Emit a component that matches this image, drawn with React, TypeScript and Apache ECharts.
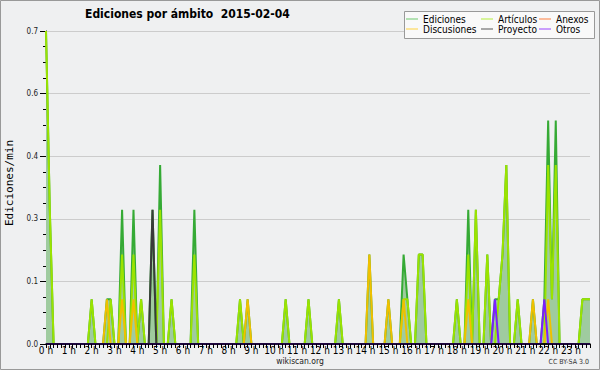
import { useEffect, useRef } from 'react';
import * as echarts from 'echarts';

// Hour tick labels (each hour is split in six 10-minute slots)
const HOUR_LABELS = [
  '0 h', '1 h', '2 h', '3 h', '4 h', '5 h', '6 h', '7 h', '8 h', '9 h', '10 h', '11 h',
  '12 h', '13 h', '14 h', '15 h', '16 h', '17 h', '18 h', '19 h', '20 h', '21 h', '22 h', '23 h',
];
const MINUTES = ['00', '10', '20', '30', '40', '50'];

// Edits per minute for each 10-minute slot (rows = 2 hours)
const EDICIONES = [
  0.7, 0.3, 0, 0, 0, 0, 0, 0, 0, 0, 0, 0,
  0.1, 0, 0, 0, 0.1, 0.1, 0, 0, 0.3, 0, 0, 0.3,
  0, 0.1, 0, 0, 0.3, 0, 0.4, 0, 0, 0.1, 0, 0,
  0, 0, 0, 0.3, 0, 0, 0, 0, 0, 0, 0, 0,
  0, 0, 0, 0.1, 0, 0.1, 0, 0, 0, 0, 0, 0,
  0, 0, 0, 0.1, 0, 0, 0, 0, 0, 0.1, 0, 0,
  0, 0, 0, 0, 0, 0.1, 0, 0, 0, 0, 0, 0,
  0, 0.2, 0, 0, 0, 0, 0.1, 0, 0, 0, 0.2, 0.1,
  0, 0, 0.2, 0.2, 0, 0, 0, 0, 0, 0, 0, 0,
  0.1, 0, 0, 0.3, 0, 0.3, 0, 0, 0.2, 0, 0.1, 0.1,
  0.2, 0.4, 0, 0, 0.1, 0, 0, 0, 0.1, 0, 0, 0.1,
  0.5, 0.1, 0.5, 0, 0, 0, 0, 0, 0, 0.1, 0.1, 0.1,
];
const ARTICULOS = [
  0.7, 0.3, 0, 0, 0, 0, 0, 0, 0, 0, 0, 0,
  0.1, 0, 0, 0, 0, 0.1, 0, 0, 0.2, 0, 0, 0.2,
  0, 0.1, 0, 0, 0, 0, 0.3, 0, 0, 0.1, 0, 0,
  0, 0, 0, 0.2, 0, 0, 0, 0, 0, 0, 0, 0,
  0, 0, 0, 0.1, 0, 0, 0, 0, 0, 0, 0, 0,
  0, 0, 0, 0.1, 0, 0, 0, 0, 0, 0.1, 0, 0,
  0, 0, 0, 0, 0, 0.1, 0, 0, 0, 0, 0, 0,
  0, 0, 0, 0, 0, 0, 0, 0, 0, 0, 0.1, 0.1,
  0, 0, 0.2, 0.2, 0, 0, 0, 0, 0, 0, 0, 0,
  0.1, 0, 0, 0.2, 0, 0.3, 0, 0, 0.2, 0, 0, 0.1,
  0.2, 0.4, 0, 0, 0.1, 0, 0, 0, 0, 0, 0, 0,
  0.4, 0.1, 0.4, 0, 0, 0, 0, 0, 0, 0.1, 0.1, 0.1,
];
const ANEXOS = [
  0, 0, 0, 0, 0, 0, 0, 0, 0, 0, 0, 0,
  0, 0, 0, 0, 0, 0, 0, 0, 0, 0, 0, 0,
  0, 0, 0, 0, 0, 0, 0, 0, 0, 0, 0, 0,
  0, 0, 0, 0, 0, 0, 0, 0, 0, 0, 0, 0,
  0, 0, 0, 0, 0, 0, 0, 0, 0, 0, 0, 0,
  0, 0, 0, 0, 0, 0, 0, 0, 0, 0, 0, 0,
  0, 0, 0, 0, 0, 0, 0, 0, 0, 0, 0, 0,
  0, 0, 0, 0, 0, 0, 0, 0, 0, 0, 0, 0,
  0, 0, 0, 0, 0, 0, 0, 0, 0, 0, 0, 0,
  0, 0, 0, 0, 0, 0, 0, 0, 0, 0, 0, 0,
  0, 0, 0, 0, 0, 0, 0, 0, 0, 0, 0, 0,
  0, 0, 0, 0, 0, 0, 0, 0, 0, 0, 0, 0,
];
const DISCUSIONES = [
  0, 0, 0, 0, 0, 0, 0, 0, 0, 0, 0, 0,
  0, 0, 0, 0, 0.1, 0, 0, 0, 0.1, 0, 0, 0.1,
  0, 0, 0, 0, 0, 0, 0, 0, 0, 0, 0, 0,
  0, 0, 0, 0, 0, 0, 0, 0, 0, 0, 0, 0,
  0, 0, 0, 0, 0, 0.1, 0, 0, 0, 0, 0, 0,
  0, 0, 0, 0, 0, 0, 0, 0, 0, 0, 0, 0,
  0, 0, 0, 0, 0, 0, 0, 0, 0, 0, 0, 0,
  0, 0.2, 0, 0, 0, 0, 0.1, 0, 0, 0, 0.1, 0,
  0, 0, 0, 0, 0, 0, 0, 0, 0, 0, 0, 0,
  0, 0, 0, 0.1, 0, 0, 0, 0, 0, 0, 0, 0,
  0, 0, 0, 0, 0, 0, 0, 0, 0.1, 0, 0, 0,
  0.1, 0, 0, 0, 0, 0, 0, 0, 0, 0, 0, 0,
];
const PROYECTO = [
  0, 0, 0, 0, 0, 0, 0, 0, 0, 0, 0, 0,
  0, 0, 0, 0, 0, 0, 0, 0, 0, 0, 0, 0,
  0, 0, 0, 0, 0.3, 0, 0, 0, 0, 0, 0, 0,
  0, 0, 0, 0, 0, 0, 0, 0, 0, 0, 0, 0,
  0, 0, 0, 0, 0, 0, 0, 0, 0, 0, 0, 0,
  0, 0, 0, 0, 0, 0, 0, 0, 0, 0, 0, 0,
  0, 0, 0, 0, 0, 0, 0, 0, 0, 0, 0, 0,
  0, 0, 0, 0, 0, 0, 0, 0, 0, 0, 0, 0,
  0, 0, 0, 0, 0, 0, 0, 0, 0, 0, 0, 0,
  0, 0, 0, 0, 0, 0, 0, 0, 0, 0, 0, 0,
  0, 0, 0, 0, 0, 0, 0, 0, 0, 0, 0, 0,
  0, 0, 0, 0, 0, 0, 0, 0, 0, 0, 0, 0,
];
const OTROS = [
  0, 0, 0, 0, 0, 0, 0, 0, 0, 0, 0, 0,
  0, 0, 0, 0, 0, 0, 0, 0, 0, 0, 0, 0,
  0, 0, 0, 0, 0, 0, 0, 0, 0, 0, 0, 0,
  0, 0, 0, 0, 0, 0, 0, 0, 0, 0, 0, 0,
  0, 0, 0, 0, 0, 0, 0, 0, 0, 0, 0, 0,
  0, 0, 0, 0, 0, 0, 0, 0, 0, 0, 0, 0,
  0, 0, 0, 0, 0, 0, 0, 0, 0, 0, 0, 0,
  0, 0, 0, 0, 0, 0, 0, 0, 0, 0, 0, 0,
  0, 0, 0, 0, 0, 0, 0, 0, 0, 0, 0, 0,
  0, 0, 0, 0, 0, 0, 0, 0, 0, 0, 0.1, 0,
  0, 0, 0, 0, 0, 0, 0, 0, 0, 0, 0, 0.1,
  0, 0, 0, 0, 0, 0, 0, 0, 0, 0, 0, 0,
];

const FONT = "'DejaVu Sans Condensed', 'DejaVu Sans', sans-serif";
const LINE_ICON = 'path://M0 0H24V2H0Z';

export default function App() {
  const ref = useRef<HTMLDivElement>(null);

  useEffect(() => {
    const chart = echarts.init(ref.current!, null, { renderer: 'svg' });
    const slots = HOUR_LABELS.flatMap((_, h) => MINUTES.map((m) => `${h}:${m}`));

    const line = (name: string, data: number[], color: string, extra: any = {}) => ({
      type: 'line',
      name,
      data,
      symbol: 'none',
      showSymbol: false,
      lineStyle: { color, width: 2 },
      itemStyle: { color },
      emphasis: { disabled: true },
      ...extra,
    });

    const legendBase = {
      orient: 'vertical',
      top: 14,
      padding: 0,
      itemGap: 0,
      itemWidth: 12,
      itemHeight: 10,
      icon: LINE_ICON,
      symbolKeepAspect: true,
      selectedMode: false,
      z: 20,
      textStyle: { fontSize: 10, fontFamily: FONT, color: '#000', lineHeight: 10 },
    };

    chart.setOption({
      animation: false,
      backgroundColor: '#eff0f1',
      grid: { left: 46, right: 10, top: 31, bottom: 26 },
      xAxis: {
        type: 'category',
        data: slots,
        boundaryGap: false,
        z: 5,
        axisLine: { lineStyle: { color: '#000', width: 1.5 } },
        axisTick: { interval: 0, length: 4, lineStyle: { color: '#000' } },
        axisLabel: {
          interval: 5,
          margin: 1,
          fontSize: 10,
          fontFamily: FONT,
          color: '#000',
          formatter: (_v: string, i: number) => HOUR_LABELS[i / 6] ?? '',
        },
        splitLine: { show: false },
      },
      yAxis: {
        type: 'value',
        min: 0,
        max: 0.7,
        interval: 0.14,
        axisLine: { show: true, lineStyle: { color: '#000' } },
        axisTick: { show: true, length: 6, lineStyle: { color: '#000' } },
        minorTick: { show: true, splitNumber: 4, length: 3, lineStyle: { color: '#000' } },
        axisLabel: {
          margin: 8,
          fontSize: 8,
          fontFamily: FONT,
          color: '#222',
          formatter: (v: number) => v.toFixed(1),
        },
        splitLine: { show: true, lineStyle: { color: '#cccccc', width: 1 } },
      },
      legend: [
        {
          ...legendBase,
          left: 406,
          data: [
            { name: 'Ediciones', itemStyle: { color: '#6cc86c' } },
            { name: 'Discusiones', itemStyle: { color: '#ffd23f' } },
          ],
        },
        {
          ...legendBase,
          left: 481,
          data: [
            { name: 'Artículos', itemStyle: { color: '#b5ee3a' } },
            { name: 'Proyecto', itemStyle: { color: '#555555' } },
          ],
        },
        {
          ...legendBase,
          left: 539,
          data: [
            { name: 'Anexos', itemStyle: { color: '#ff7f3f' } },
            { name: 'Otros', itemStyle: { color: '#9a44ff' } },
          ],
        },
      ],
      series: [
        line('Ediciones', EDICIONES, '#35aa35', {
          areaStyle: { color: '#9fcb9f', opacity: 1 },
        }),
        line('Artículos', ARTICULOS, '#9be300'),
        line('Anexos', ANEXOS, '#ff7f3f'),
        line('Discusiones', DISCUSIONES, '#f0c000'),
        line('Proyecto', PROYECTO, '#3a3a3a'),
        line('Otros', OTROS, '#7b1fff'),
      ],
      graphic: [
        {
          type: 'rect',
          z: 10,
          shape: { x: 404.5, y: 11.5, width: 190, height: 27 },
          style: { fill: '#f9f9f9', stroke: '#999', lineWidth: 1 },
        },
        {
          type: 'rect',
          z: 30,
          shape: { x: 0.5, y: 0.5, width: 599, height: 369 },
          style: { fill: 'none', stroke: '#999', lineWidth: 1 },
        },
        {
          type: 'text',
          z: 30,
          x: 85,
          y: 14,
          style: {
            text: 'Ediciones por ámbito  2015-02-04',
            fontSize: 12,
            fontWeight: 'bold',
            fontFamily: FONT,
            fill: '#000',
            align: 'left',
            verticalAlign: 'middle',
          },
        },
        {
          type: 'text',
          z: 30,
          x: 9,
          y: 183,
          rotation: Math.PI / 2,
          style: {
            text: 'Ediciones/min',
            fontSize: 11,
            fontFamily: "'DejaVu Sans Mono', monospace",
            fill: '#000',
            align: 'center',
            verticalAlign: 'middle',
          },
        },
        {
          type: 'text',
          z: 30,
          x: 300,
          y: 361,
          style: {
            text: 'wikiscan.org',
            fontSize: 8.5,
            fontFamily: FONT,
            fill: '#222',
            align: 'center',
            verticalAlign: 'middle',
          },
        },
        {
          type: 'text',
          z: 30,
          x: 589,
          y: 362,
          style: {
            text: 'CC BY-SA 3.0',
            fontSize: 7,
            fontFamily: FONT,
            fill: '#333',
            align: 'right',
            verticalAlign: 'middle',
          },
        },
      ],
    });

    return () => chart.dispose();
  }, []);

  return (
    <div
      ref={ref}
      style={{ position: 'fixed', left: 0, top: 0, width: 600, height: 370 }}
    />
  );
}
